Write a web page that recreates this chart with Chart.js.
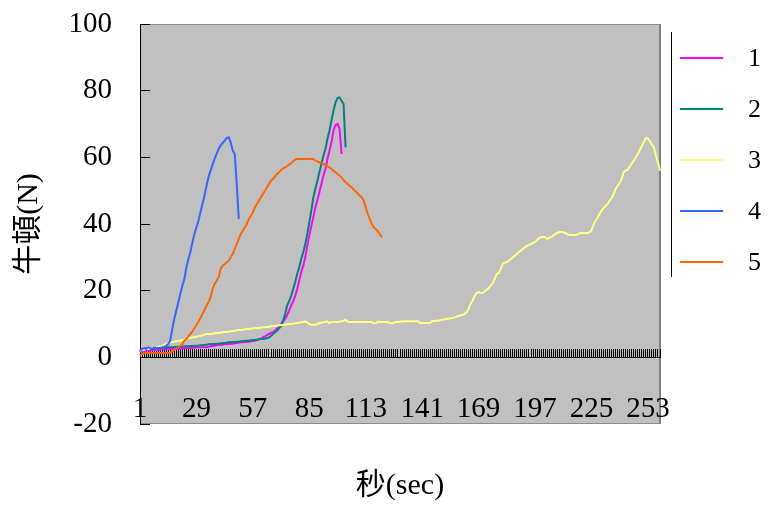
<!DOCTYPE html>
<html>
<head>
<meta charset="utf-8">
<script src="https://cdn.jsdelivr.net/npm/chart.js@4/dist/chart.umd.min.js"></script>
<style>
  html, body { margin: 0; padding: 0; background: #ffffff; }
  canvas { display: block; }
</style>
</head>
<body>
<canvas id="chart" width="769" height="505"></canvas>
<script>
// Sample index along the time axis (one sample per category)
const sampleCount = 259;
const categories = Array.from({ length: sampleCount }, (_, i) => String(i + 1));
const tickLabels = ['1', '29', '57', '85', '113', '141', '169', '197', '225', '253'];
const yTicks = { min: -20, max: 100, step: 20 };

const seriesNames = ['1', '2', '3', '4', '5'];
const seriesColors = ['#FF00FF', '#008080', '#FFFF80', '#3366FF', '#FF6600'];

// Force readings (N) per sample
const series1 = [
  1.5, 2, 2, 2, 2.2, 2, 2.2, 2.2, 2.3, 2.3,
  2.3, 2.4, 2.4, 2.5, 2.5, 2.5, 2.5, 2.6, 2.6, 2.6,
  2.7, 2.7, 2.7, 2.8, 2.8, 2.8, 2.9, 2.9, 3, 3,
  3, 3, 3, 3, 3.2, 3.3, 3.4, 3.5, 3.6, 3.7,
  3.8, 3.8, 3.9, 4, 4, 4, 4.1, 4.2, 4.3, 4.4,
  4.5, 4.5, 4.6, 4.6, 4.7, 4.8, 4.9, 5, 5.2, 5.4,
  5.6, 6, 6.3, 6.7, 7, 7.3, 7.6, 8, 8.7, 9.3,
  10, 10.8, 11.5, 12.7, 14, 15.5, 16.8, 18.4, 20.5, 23,
  25.6, 27.5, 30, 33.5, 36.5, 39.4, 42, 45, 47.2, 49.5,
  52, 54.5, 56.5, 59.5, 62, 64.5, 68, 69.7, 70, 68.5,
  61
];

const series2 = [
  2, 2.5, 2.5, 2.7, 2.5, 2.8, 2.5, 2.7, 2.8, 2.8,
  2.8, 2.8, 2.9, 3, 3, 3, 3, 3.1, 3.1, 3.2,
  3.2, 3.2, 3.3, 3.3, 3.3, 3.4, 3.4, 3.5, 3.5, 3.5,
  3.6, 3.6, 3.7, 3.8, 3.9, 4, 4, 4, 4.1, 4.1,
  4.2, 4.2, 4.3, 4.4, 4.5, 4.5, 4.6, 4.6, 4.7, 4.7,
  4.8, 4.8, 4.9, 5, 5, 5.1, 5.1, 5.2, 5.3, 5.4,
  5.5, 5.5, 5.6, 5.8, 6, 6.4, 7, 7.5, 8, 8.7,
  9.4, 11, 13, 15.5, 16.8, 18.4, 20.5, 22.6, 25, 27,
  29.5, 31.5, 34, 37, 40.5, 44, 48, 50.5, 52.9, 55.5,
  58, 60.5, 62.5, 65.5, 68, 71, 74, 76.5, 77.8, 78,
  77, 76, 63
];

const series3 = [
  2, 2.2, 2.3, 2.5, 2.5, 2.7, 2.8, 3, 3, 3.2,
  3.3, 3.5, 3.8, 4, 4.2, 4.4, 4.6, 4.7, 4.8, 5,
  5, 5.2, 5.3, 5.5, 5.7, 5.8, 6, 6, 6.2, 6.3,
  6.5, 6.6, 6.8, 7, 7, 7, 7.1, 7.2, 7.3, 7.3,
  7.4, 7.5, 7.6, 7.6, 7.7, 7.8, 7.9, 8, 8.1, 8.2,
  8.2, 8.3, 8.4, 8.5, 8.5, 8.6, 8.7, 8.7, 8.8, 8.8,
  8.9, 9, 9, 9.1, 9.2, 9.3, 9.4, 9.4, 9.5, 9.6,
  9.7, 9.7, 9.8, 9.9, 10, 10, 10.1, 10.2, 10.3, 10.4,
  10.5, 10.6, 10.8, 10.4, 10, 9.8, 9.8, 9.8, 10, 10.3,
  10.4, 10.5, 10.6, 10.8, 10.2, 10.6, 10.6, 10.6, 10.6, 10.7,
  10.8, 11, 11.3, 10.7, 10.6, 10.6, 10.6, 10.6, 10.6, 10.6,
  10.6, 10.6, 10.6, 10.6, 10.6, 10.6, 10.2, 10.3, 10.7, 10.6,
  10.6, 10.6, 10.6, 10.6, 10.3, 10.2, 10.4, 10.6, 10.6, 10.7,
  10.8, 10.8, 10.8, 10.8, 10.8, 10.8, 10.8, 10.8, 10.8, 10.3,
  10.3, 10.3, 10.3, 10.3, 10.3, 10.9, 10.9, 11, 11, 11.2,
  11.3, 11.4, 11.5, 11.6, 11.7, 11.8, 12, 12.2, 12.4, 12.6,
  12.7, 13, 13.5, 14.5, 16, 17, 18.4, 19.3, 19.6, 19.4,
  19.3, 19.8, 20.3, 20.8, 21.5, 22.2, 23.5, 25, 25.3, 26.5,
  28, 28.4, 28.6, 29, 29.5, 30, 30.5, 31, 31.6, 32,
  32.6, 33.1, 33.4, 33.7, 34, 34.3, 34.6, 35.2, 35.8, 36,
  36.1, 36.1, 35.5, 35.8, 36.1, 36.5, 37, 37.3, 37.6, 37.6,
  37.5, 37.3, 37, 36.7, 36.7, 36.7, 36.7, 36.8, 37.2, 37.3,
  37.3, 37.3, 37.3, 37.5, 38, 39.8, 41, 41.8, 43, 44,
  44.8, 45.4, 46, 47, 47.8, 49, 50.5, 51.5, 52.3, 53.5,
  55.6, 56, 56.3, 57.2, 58.2, 59, 60, 61, 62.2, 63.4,
  64.6, 65.8, 65.6, 64.8, 63.8, 63, 60.4, 58.5, 56
];

const series4 = [
  2, 2.5, 2.8, 2.5, 3, 2.8, 2.5, 3, 2.8, 2.8,
  2.8, 3, 3, 3.5, 4, 5, 8.5, 11.5, 14, 16.5,
  19, 21.5, 23.5, 27, 29.5, 31.5, 34.5, 37, 39, 41,
  43.6, 46, 48.5, 51.5, 54, 56, 57.8, 59.5, 61, 62.5,
  63.5, 64.3, 65, 65.8, 66, 64.5, 62, 61, 52, 41.5
];

const series5 = [
  0.5, 1, 1.2, 1.3, 1.3, 1.2, 1.3, 1.3, 1.3, 1.3,
  1.3, 1.3, 1.3, 1.3, 1.3, 1.4, 1.8, 2.2, 2.6, 3,
  3.5, 4, 5, 5.5, 6.3, 7, 7.8, 8.7, 9.7, 10.7,
  11.8, 13, 14.2, 15.4, 16.6, 18, 20.5, 22, 23, 24,
  26.5, 27.5, 28, 28.5, 29, 30, 31, 32.5, 34, 35.5,
  37, 38, 39, 40, 41.5, 42.5, 43.5, 45, 46, 47,
  48, 49, 50, 51, 52, 53, 53.5, 54.3, 55, 55.5,
  56.2, 56.7, 57, 57.4, 57.8, 58.3, 58.8, 59.3, 59.5, 59.5,
  59.5, 59.5, 59.5, 59.5, 59.5, 59.5, 59.5, 59, 58.8, 58.5,
  58.2, 58, 57.7, 57.3, 57, 56.5, 56, 55.5, 55, 54.5,
  54, 53.2, 52.5, 52, 51.5, 51, 50.3, 49.8, 49.2, 48.5,
  48, 47, 45, 43, 41.5, 40, 39, 38.5, 37.8, 37, 36
];

const seriesData = [series1, series2, series3, series4, series5];

const SERIF = "'Liberation Serif', 'Noto Sans CJK TC', serif";

// Short horizontal line used as the legend swatch
function legendSwatch(color) {
  const c = document.createElement('canvas');
  c.width = 60;
  c.height = 8;
  const g = c.getContext('2d');
  g.fillStyle = color;
  g.fillRect(0, 2, 43, 2);
  return c;
}
const swatches = seriesColors.map(legendSwatch);

// Gray plot area with its frame, plus the rule at the left of the legend
const plotFrame = {
  id: 'plotFrame',
  beforeDraw(chart) {
    const { ctx, chartArea: a } = chart;
    ctx.save();
    ctx.fillStyle = '#C0C0C0';
    ctx.fillRect(a.left, a.top, a.right - a.left, a.bottom - a.top);
    ctx.strokeStyle = '#8C8C8C';
    ctx.lineWidth = 1;
    ctx.beginPath();
    ctx.moveTo(a.left, a.top + 0.5);
    ctx.lineTo(a.right, a.top + 0.5);
    ctx.moveTo(a.left, a.bottom - 0.5);
    ctx.lineTo(a.right, a.bottom - 0.5);
    ctx.stroke();
    ctx.strokeStyle = '#808080';
    ctx.lineWidth = 2;
    ctx.beginPath();
    ctx.moveTo(a.right, a.top);
    ctx.lineTo(a.right, a.bottom);
    ctx.stroke();
    ctx.restore();
  },
  afterDraw(chart) {
    const lg = chart.legend;
    if (!lg) return;
    const { ctx } = chart;
    ctx.save();
    ctx.strokeStyle = '#000000';
    ctx.lineWidth = 1;
    ctx.beginPath();
    ctx.moveTo(lg.left + 11.5, lg.top + 11);
    ctx.lineTo(lg.left + 11.5, lg.top + 256);
    ctx.stroke();
    ctx.restore();
  }
};

function zeroSidePadding(scale) {
  scale.paddingLeft = 0;
  scale.paddingRight = 0;
}

new Chart(document.getElementById('chart'), {
  type: 'line',
  data: {
    labels: categories,
    datasets: seriesData.map((values, i) => ({
      label: seriesNames[i],
      data: values,
      borderColor: seriesColors[i],
      backgroundColor: seriesColors[i],
      borderWidth: 2,
      pointRadius: 0,
      tension: 0,
      fill: false,
      order: seriesData.length - 1 - i
    }))
  },
  options: {
    responsive: false,
    animation: false,
    layout: { padding: { top: 21, left: 0, right: 0, bottom: 0 } },
    scales: {
      // bottom band: carries the axis title only
      x: {
        type: 'category',
        position: 'bottom',
        offset: false,
        grid: { display: false, drawTicks: false },
        border: { display: false },
        ticks: { display: false },
        title: {
          display: true,
          text: '秒(sec)',
          color: '#000000',
          font: { family: SERIF, size: 30 },
          padding: { top: 0, bottom: 1 }
        },
        afterFit(scale) {
          scale.height = 81;
          zeroSidePadding(scale);
        }
      },
      // category labels, set inside the plot just above its lower edge
      xl: {
        type: 'category',
        position: { y: -20 },
        offset: false,
        grid: { display: false, drawTicks: false },
        border: { display: false },
        ticks: {
          autoSkip: false,
          maxRotation: 0,
          minRotation: 0,
          padding: -32,
          color: '#000000',
          font: { family: SERIF, size: 29 },
          callback(value) {
            const lbl = this.getLabelForValue(value);
            return tickLabels.includes(lbl) ? lbl : '';
          }
        },
        afterFit: zeroSidePadding
      },
      // axis line at zero with a tick mark for every sample
      xt: {
        type: 'category',
        position: { y: 0 },
        offset: false,
        grid: {
          display: true,
          drawOnChartArea: false,
          drawTicks: true,
          tickLength: -9,
          color: '#000000',
          lineWidth: 1
        },
        border: { display: true, color: '#000000', width: 1 },
        ticks: { display: false },
        afterFit: zeroSidePadding
      },
      y: {
        type: 'linear',
        position: 'left',
        min: yTicks.min,
        max: yTicks.max,
        grid: {
          drawOnChartArea: false,
          drawTicks: true,
          tickLength: -10,
          color: '#000000'
        },
        border: { display: true, color: '#000000', width: 1 },
        ticks: {
          stepSize: yTicks.step,
          padding: 38,
          color: '#000000',
          font: { family: SERIF, size: 29 }
        },
        title: {
          display: true,
          text: '牛頓(N)',
          color: '#000000',
          font: { family: SERIF, size: 30 },
          padding: { top: 11, bottom: 0 }
        },
        afterFit(scale) {
          scale.width = 140;
          scale.paddingTop = 24;
          scale.paddingBottom = 0;
        }
      }
    },
    plugins: {
      tooltip: { enabled: false },
      legend: {
        position: 'right',
        align: 'start',
        maxWidth: 109,
        labels: {
          usePointStyle: true,
          pointStyleWidth: 50,
          padding: 25,
          color: '#000000',
          font: { family: SERIF, size: 26 },
          generateLabels(chart) {
            return chart.data.datasets.map((ds, i) => ({
              text: ds.label,
              pointStyle: swatches[i],
              fillStyle: ds.borderColor,
              strokeStyle: ds.borderColor,
              lineWidth: 0,
              hidden: false,
              datasetIndex: i,
              fontColor: '#000000'
            }));
          }
        }
      }
    }
  },
  plugins: [plotFrame]
});
</script>
</body>
</html>
